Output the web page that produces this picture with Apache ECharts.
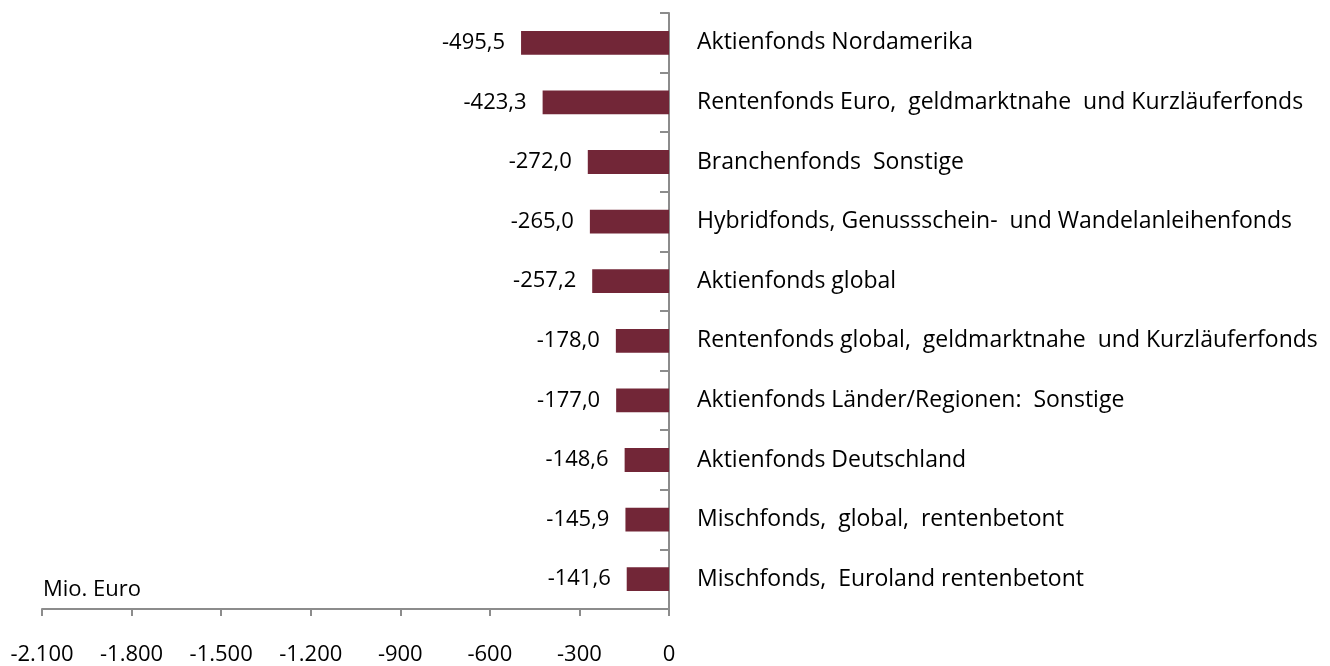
<!DOCTYPE html>
<html>
<head>
<meta charset="utf-8">
<script src="https://cdn.jsdelivr.net/npm/echarts@6/dist/echarts.min.js"></script>
<style>
  html, body { margin: 0; padding: 0; background: #fff; }
  #chart { width: 1330px; height: 666px; }
</style>
</head>
<body>
<div id="chart"></div>
<script>
// Kategorien (von oben nach unten) und Abflüsse in Mio. Euro
var categories = [
  'Aktienfonds Nordamerika',
  'Rentenfonds Euro,  geldmarktnahe  und Kurzläuferfonds',
  'Branchenfonds  Sonstige',
  'Hybridfonds, Genussschein-  und Wandelanleihenfonds',
  'Aktienfonds global',
  'Rentenfonds global,  geldmarktnahe  und Kurzläuferfonds',
  'Aktienfonds Länder/Regionen:  Sonstige',
  'Aktienfonds Deutschland',
  'Mischfonds,  global,  rentenbetont',
  'Mischfonds,  Euroland rentenbetont'
]
var values = [-495.5, -423.3, -272.0, -265.0, -257.2, -178.0, -177.0, -148.6, -145.9, -141.6]
var axisMin = -2100
var axisMax = 0
var axisStep = 300

var font = '"Open Sans", "Liberation Sans", sans-serif'

var myChart = echarts.init(document.getElementById('chart'))

var option = {
  animation: false,
  grid: {
    left: 42,
    right: 661,
    top: 13,
    bottom: 56
  },
  xAxis: {
    type: 'value',
    min: axisMin,
    max: axisMax,
    interval: axisStep,
    splitLine: { show: false },
    axisLine: { show: true, lineStyle: { color: '#8c8c8c', width: 2 } },
    axisTick: { show: true, length: 7, lineStyle: { color: '#8c8c8c', width: 2 } },
    axisLabel: {
      color: '#000',
      fontSize: 22,
      fontFamily: font,
      margin: 35,
      formatter: function (v) {
        // deutsches Tausendertrennzeichen
        var s = Math.abs(v).toString().replace(/\B(?=(\d{3})+(?!\d))/g, '.')
        return (v < 0 ? '-' : '') + s
      }
    }
  },
  yAxis: {
    type: 'category',
    position: 'right',
    inverse: true,
    data: categories,
    axisLine: { show: true, lineStyle: { color: '#8c8c8c', width: 2 } },
    axisTick: { show: true, inside: true, length: 9, lineStyle: { color: '#8c8c8c', width: 2 } },
    axisLabel: {
      color: '#000',
      fontSize: 23,
      fontFamily: font,
      margin: 28,
      align: 'left'
    }
  },
  graphic: [{
    type: 'text',
    left: 43,
    top: 579,
    style: {
      text: 'Mio. Euro',
      fill: '#000',
      font: '22px ' + font
    }
  }],
  series: [{
    type: 'bar',
    data: values,
    barWidth: '40%',
    itemStyle: { color: '#722637' },
    label: {
      show: true,
      position: 'left',
      distance: 16,
      color: '#000',
      fontSize: 22,
      fontFamily: font,
      formatter: function (p) {
        return p.value.toFixed(1).replace('.', ',')
      }
    }
  }]
}

myChart.setOption(option)
</script>
</body>
</html>
